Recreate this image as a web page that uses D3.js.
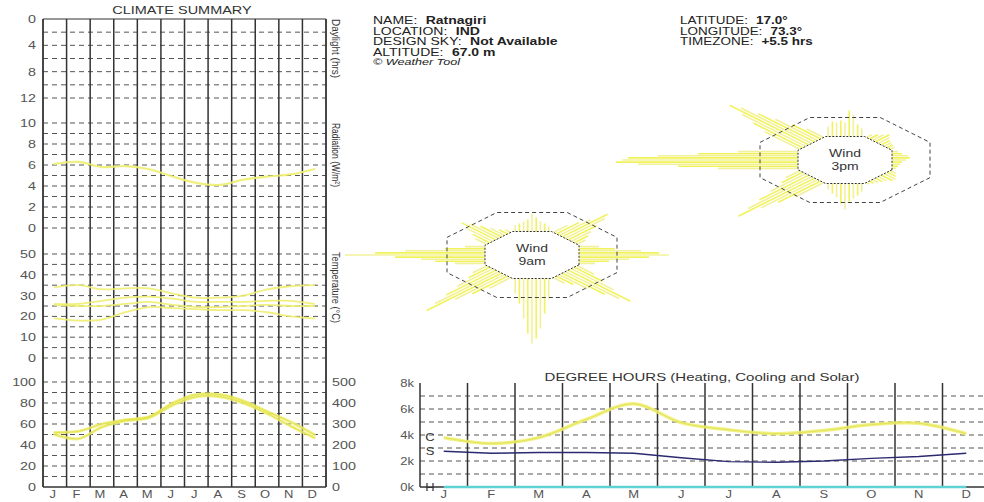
<!DOCTYPE html>
<html><head><meta charset="utf-8">
<script src="https://cdn.jsdelivr.net/npm/d3@7"></script>
<style>
html,body{margin:0;padding:0;background:#fff;}
svg{display:block;font-family:"Liberation Sans",Arial,sans-serif;}
</style></head>
<body>
<svg id="c" width="984" height="502"></svg>
<script>
// ---------- DATA ----------
const months = ["J","F","M","A","M","J","J","A","S","O","N","D"];
const daylightTicks = [0,4,8,12];
const radiationTicks = [10,8,6,4,2,0];
const temperatureTicks = [50,40,30,20,10,0];
const humidityTicks = [100,80,60,40,20,0];
const humidityRightTicks = [500,400,300,200,100,0];
const dhTicks = [0,2000,4000,6000,8000];
const dhTickLabels = ["0k","2k","4k","6k","8k"];

const radiation = [6.1,6.3,5.8,5.9,5.6,4.9,4.3,4.1,4.6,4.9,5.1,5.6];
const tempMax     = [34,35,33,33.5,33.5,31,29,29,30,33,34.5,35];
const tempMeanHi  = [26,26,27.5,29,29.5,28.5,27,27,27,27.5,27.5,26];
const tempMeanLo  = [25.5,25,25,26,27,25.5,24.5,24.5,25,25.5,25,25];
const tempMin     = [19,18,18.5,22,24.5,24,23.5,23,23,22,20,19];
const humidityHi  = [52,53,60,64,67,80,88,88,82,72,62,50];
const humidityLo  = [50,46,57,63,66,78,86,86,80,70,58,47];

const coolingDH = [3800,3350,3800,5200,6400,4950,4400,4100,4350,4800,4900,4100];
const solarDH   = [2750,2600,2650,2650,2600,2250,1950,1900,2000,2200,2350,2600];
const heatingDH = [0,0,0,0,0,0,0,0,0,0,0,0];

const windDirs = ["N","NE","E","SE","S","SW","W","NW"];
const wind9am = {
  N:[6,8,10,12,18,14,10,8,5],
  NE:[10,16,22,32,28,20,14,10,6],
  E:[10,18,31,40,45,35,25,15,8],
  SE:[12,20,30,44,38,30,20,12,8],
  S:[20,35,50,60,65,55,40,25,15],
  SW:[15,25,35,53,45,35,25,15,10],
  W:[15,25,32,45,70,55,40,20,10],
  NW:[8,12,18,24,20,15,10,6,4]
};
const wind3pm = {
  N:[10,15,14,16,14,26,22,12,8],
  NE:[4,6,8,10,8,6,5,4,3],
  E:[3,5,8,9,7,5,4,3,2],
  SE:[4,6,8,8,6,5,4,3,2],
  S:[8,12,15,18,26,20,14,10,6],
  SW:[20,30,40,54,45,35,25,15,10],
  W:[40,60,80,91,88,85,70,50,30],
  NW:[25,35,45,56,50,40,30,20,12]
};

const infoLeft = [["NAME:","Ratnagiri"],["LOCATION:","IND"],["DESIGN SKY:","Not Available"],["ALTITUDE:","67.0 m"]];
const infoRight = [["LATITUDE:","17.0°"],["LONGITUDE:","73.3°"],["TIMEZONE:","+5.5 hrs"]];

// ---------- DRAW ----------
const svg = d3.select("#c");
const GRID = "#555", FRAME = "#333", TXT = "#555";
const YEL = "#eeee70";
// horizontally stretched text, like the reference
function T(parent, x, y, f){
  return parent.append("text").attr("transform",`translate(${x},${y}) scale(${f},1)`);
}

// Left panel scales
const xL = d3.scaleBand().domain(d3.range(12)).range([43,326]);
const cxL = i => xL(i) + xL.bandwidth()/2;
const yDay = d3.scaleLinear().domain([0,12]).range([19,98]);
const yRad = d3.scaleLinear().domain([0,10]).range([228,123]);
const yTemp = d3.scaleLinear().domain([0,50]).range([358,254]);
const yHum = d3.scaleLinear().domain([0,100]).range([487,382]);
const yHumR = d3.scaleLinear().domain([0,500]).range([487,382]);

const gL = svg.append("g");
function hGrid(scale, vals){
  gL.selectAll(null).data(vals).enter().append("line")
    .attr("x1",43).attr("x2",326).attr("y1",d=>scale(d)).attr("y2",d=>scale(d))
    .attr("stroke",GRID).attr("stroke-width",1).attr("stroke-dasharray","5,4");
}
hGrid(yDay, d3.range(2,13,2));
hGrid(yRad, d3.range(0,11,1));
hGrid(yTemp, d3.range(0,51,5));
hGrid(yHum, d3.range(10,101,10));
gL.append("line").attr("x1",43).attr("x2",326).attr("y1",yDay(0)).attr("y2",yDay(0)).attr("stroke",FRAME).attr("stroke-width",1.2);
gL.append("line").attr("x1",43).attr("x2",326).attr("y1",yHum(0)).attr("y2",yHum(0)).attr("stroke",FRAME).attr("stroke-width",1.5);
gL.selectAll(null).data(d3.range(13)).enter().append("line")
  .attr("x1",i=>i<12?xL(i):326).attr("x2",i=>i<12?xL(i):326)
  .attr("y1",yDay(0)).attr("y2",yHum(0))
  .attr("stroke",FRAME).attr("stroke-width",i=>(i===0||i===12)?1.8:1.5);

function leftTicks(scale, vals){
  vals.forEach(d=>{
    T(gL,36,scale(d),1.3).attr("dy","0.36em").attr("text-anchor","end")
      .attr("font-size",11).attr("fill",TXT).text(d);
  });
}
leftTicks(yDay, daylightTicks);
leftTicks(yRad, radiationTicks);
leftTicks(yTemp, temperatureTicks);
leftTicks(yHum, humidityTicks);
humidityRightTicks.forEach(d=>{
  T(gL,332,yHumR(d),1.3).attr("dy","0.36em").attr("font-size",11).attr("fill",TXT).text(d);
});
months.forEach((m,i)=>{
  T(gL,cxL(i)-2,498,1.3).attr("text-anchor","middle").attr("font-size",10).attr("fill",TXT).text(m);
});
T(gL,182,14,1.45).attr("text-anchor","middle").attr("font-size",10).attr("fill","#333").text("CLIMATE SUMMARY");

function vLabel(x,y,txt,len){
  gL.append("text").attr("transform",`translate(${x},${y}) rotate(90)`)
    .attr("font-size",10.5).attr("fill","#333")
    .attr("textLength",len).attr("lengthAdjust","spacingAndGlyphs").text(txt);
}
vLabel(332,19,"Daylight (hrs)",59);
vLabel(332,123,"Radiation (W/m²)",64);
vLabel(332,252,"Temperature (°C)",71);

const lineL = (ys) => d3.line().x((d,i)=>cxL(i)).y(d=>ys(d)).curve(d3.curveCatmullRom.alpha(0.5));
function drawSeries(vals, ys, w, col, op){
  gL.append("path").attr("d",lineL(ys)(vals)).attr("fill","none")
    .attr("stroke",col).attr("stroke-width",w).attr("stroke-opacity",op).attr("stroke-linecap","round");
}
drawSeries(radiation, yRad, 2.2, YEL, 0.9);
[tempMax,tempMeanHi,tempMeanLo,tempMin].forEach(s=>drawSeries(s,yTemp,1.8,YEL,0.9));
drawSeries(humidityHi, yHum, 3, YEL, 0.8);
drawSeries(humidityLo, yHum, 3, YEL, 0.8);
drawSeries(humidityHi, yHum, 1, "#dede40", 0.8);
drawSeries(humidityLo, yHum, 1, "#dede40", 0.8);

// ---------- INFO TEXT ----------
const gI = svg.append("g").attr("font-size",10).attr("fill","#222");
function infoBlock(rows, x, y0, f){
  rows.forEach((r,k)=>{
    const t = T(gI,x,y0+k*10.6,f);
    t.append("tspan").text(r[0]);
    t.append("tspan").attr("dx",6).attr("font-weight","900").text(r[1]);
  });
}
infoBlock(infoLeft, 373, 24, 1.4);
T(gI,373,65,1.4).attr("font-size",9).attr("font-style","italic").text("© Weather Tool");
infoBlock(infoRight, 680, 24, 1.35);

// ---------- WIND ROSES ----------
const dirAngle = {N:-90,NE:-45,E:0,SE:45,S:90,SW:135,W:180,NW:-135};
const rWind = d3.scaleLinear().domain([0,100]).range([47,247]);
function octagon(cx,cy,flat){
  const R = flat/Math.cos(Math.PI/8);
  return d3.range(8).map(k=>{const t=Math.PI/8+k*Math.PI/4; return [cx+R*Math.cos(t), cy+0.5*R*Math.sin(t)];});
}
function drawRose(cx,cy,data,l1,l2){
  const g = svg.append("g");
  windDirs.forEach(dn=>{
    const a = dirAngle[dn]*Math.PI/180, ux=Math.cos(a), uy=Math.sin(a), px=-uy, py=ux;
    const vals = data[dn], n = vals.length, sp = 4.2;
    vals.forEach((v,i)=>{
      const off = (i-(n-1)/2)*sp, r1 = rWind(v);
      g.append("line")
        .attr("x1",cx+ux*30+px*off).attr("y1",cy+0.5*(uy*30+py*off))
        .attr("x2",cx+ux*r1+px*off).attr("y2",cy+0.5*(uy*r1+py*off))
        .attr("stroke",i%2?"#f0f040":"#eeee88").attr("stroke-width",1.6).attr("stroke-opacity",0.85);
    });
  });
  g.append("polygon").attr("points",octagon(cx,cy,85).join(" ")).attr("fill","none")
    .attr("stroke","#444").attr("stroke-width",1).attr("stroke-dasharray","4,3");
  g.append("polygon").attr("points",octagon(cx,cy,47).join(" ")).attr("fill","#fff")
    .attr("stroke","#333").attr("stroke-width",1).attr("stroke-dasharray","2,1.5");
  T(g,cx,cy-3,1.4).attr("text-anchor","middle").attr("font-size",10).attr("fill","#333").text(l1);
  T(g,cx,cy+10,1.4).attr("text-anchor","middle").attr("font-size",10).attr("fill","#333").text(l2);
}
drawRose(532,255,wind9am,"Wind","9am");
drawRose(845,160,wind3pm,"Wind","3pm");

// ---------- DEGREE HOURS ----------
const gD = svg.append("g");
const xD = d3.scaleBand().domain(d3.range(12)).range([420,990]);
const cxD = i => xD(i)+xD.bandwidth()/2;
const yD = d3.scaleLinear().domain([0,8000]).range([487,383]);
gD.selectAll(null).data(d3.range(1000,8000,1000)).enter().append("line")
  .attr("x1",420).attr("x2",990).attr("y1",d=>yD(d)).attr("y2",d=>yD(d))
  .attr("stroke",GRID).attr("stroke-dasharray","5,4");
gD.selectAll(null).data(d3.range(13)).enter().append("line")
  .attr("x1",i=>i<12?xD(i):990).attr("x2",i=>i<12?xD(i):990)
  .attr("y1",yD(8000)).attr("y2",yD(0)).attr("stroke",FRAME).attr("stroke-width",1.5);
gD.append("line").attr("x1",420).attr("x2",990).attr("y1",yD(0)).attr("y2",yD(0)).attr("stroke",FRAME).attr("stroke-width",1.5);
dhTicks.forEach((d,i)=>{
  T(gD,414,yD(d),1.3).attr("dy","0.36em").attr("text-anchor","end").attr("font-size",10).attr("fill",TXT).text(dhTickLabels[i]);
});
months.forEach((m,i)=>{
  T(gD,cxD(i),498,1.3).attr("text-anchor","middle").attr("font-size",10).attr("fill",TXT).text(m);
});
T(gD,702,381,1.5).attr("text-anchor","middle").attr("font-size",10).attr("fill","#333").text("DEGREE HOURS (Heating, Cooling and Solar)");

const lineD = d3.line().x((d,i)=>cxD(i)).y(d=>yD(d));
gD.append("path").attr("d",lineD.curve(d3.curveCatmullRom.alpha(0.5))(coolingDH)).attr("fill","none")
  .attr("stroke",YEL).attr("stroke-width",3.5).attr("stroke-opacity",0.85);
gD.append("path").attr("d",lineD.curve(d3.curveCatmullRom.alpha(0.5))(coolingDH)).attr("fill","none")
  .attr("stroke","#e0e050").attr("stroke-width",1).attr("stroke-opacity",0.8);
gD.append("path").attr("d",lineD.curve(d3.curveLinear)(solarDH)).attr("fill","none")
  .attr("stroke","#2a2a70").attr("stroke-width",1.4);
gD.append("path").attr("d",lineD.curve(d3.curveLinear)(heatingDH)).attr("fill","none")
  .attr("stroke","#5fd3d3").attr("stroke-width",2.5);
const dhLab = [["C",coolingDH[0]],["S",solarDH[0]],["H",heatingDH[0]]];
dhLab.forEach(d=>{
  T(gD,430,yD(d[1]),1.3).attr("dy","0.36em").attr("text-anchor","middle").attr("font-size",10).attr("fill","#333").text(d[0]);
});
</script>
</body></html>
